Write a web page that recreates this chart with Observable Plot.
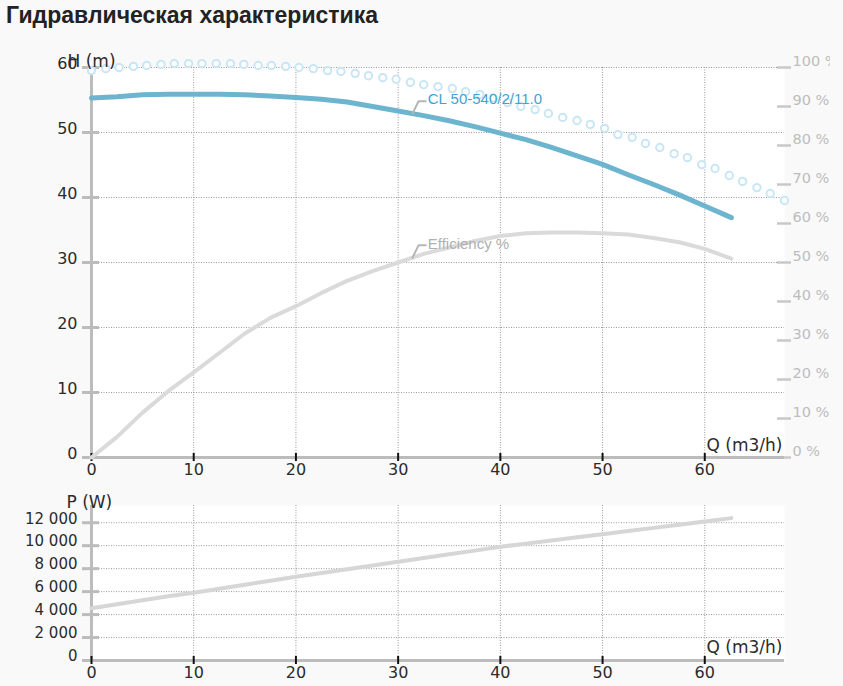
<!DOCTYPE html>
<html><head><meta charset="utf-8">
<script src="https://cdn.jsdelivr.net/npm/d3@7"></script>
<script src="https://cdn.jsdelivr.net/npm/@observablehq/plot@0.6"></script>
<style>
body{margin:0;background:#f9f9f9;}
#wrap{position:relative;width:843px;height:686px;overflow:hidden;background:#f9f9f9;font-family:"Liberation Sans",Arial,sans-serif;}
#title{position:absolute;left:6px;top:2px;font-size:23px;font-weight:bold;color:#222;white-space:nowrap;}
#top{position:absolute;left:0;top:30px;width:830px;height:450px;overflow:hidden;}
#bot{position:absolute;left:0;top:480px;width:843px;height:206px;overflow:hidden;}
</style></head><body>
<div id="wrap"><div id="title">Гидравлическая характеристика</div><div id="top"></div><div id="bot"></div></div>
<script>
// ---- data ----
const flow = [0,2.5,5,7.5,10,12.5,15,17.5,20,22.5,25,27.5,30,32.5,35,37.5,40,42.5,45,47.5,50,52.5,55,57.5,60,62.6];
const head = [55.3,55.5,55.8,55.9,55.9,55.9,55.8,55.6,55.4,55.1,54.7,54.0,53.3,52.6,51.8,50.9,49.9,48.9,47.7,46.4,45.1,43.5,42.0,40.4,38.7,36.9];
const efficiency = [0,5.3,11.5,17,21.8,26.8,31.8,35.8,38.8,42.2,45.3,47.8,50,52.2,53.8,55.5,56.8,57.5,57.7,57.7,57.5,57.2,56.3,55.2,53.5,51];
const power = [4550,4900,5250,5600,5900,6250,6600,6950,7300,7620,7950,8270,8600,8920,9250,9570,9900,10180,10450,10730,11000,11280,11550,11830,12100,12400];
const circleFlow = [0,1.4,2.7,4.1,5.4,6.8,8.1,9.5,10.8,12.2,13.6,14.9,16.3,17.6,19,20.3,21.7,23.1,24.4,25.8,27.1,28.5,29.8,31.2,32.5,33.9,35.3,36.6,38,39.3,40.7,42,43.4,44.7,46.1,47.5,48.8,50.2,51.5,52.9,54.2,55.6,57,58.3,59.7,61,62.4,63.7,65.1,66.4,67.8];
const circlePct = [99.2,99.7,100.0,100.3,100.5,100.8,101.0,101.0,101.0,101.0,101.0,100.8,100.5,100.5,100.3,100.0,99.7,99.2,99.0,98.5,97.9,97.4,97.0,96.2,95.6,95.1,94.6,93.8,93.1,92.2,91.0,90.0,89.2,88.2,87.2,86.4,85.4,84.4,82.8,82.1,80.5,79.5,77.9,76.9,75.1,74.1,72.3,70.8,69.2,67.7,65.9];
const xTicks = [0,10,20,30,40,50,60];
const hTicks = [0,10,20,30,40,50,60];
const pctTicks = [0,10,20,30,40,50,60,70,80,90,100];
const pTicks = [0,2000,4000,6000,8000,10000,12000];
const seriesName = "CL 50-540/2/11.0";
const effName = "Efficiency %";
const labelFlow = 31.4;

// ---- derived tables ----
const hMax = 60;                       // 100 % on the right axis == 60 m on the left axis
const toH = pct => pct * hMax / 100;
const curve = flow.map((q, i) => ({q, h: head[i], eff: efficiency[i], p: power[i]}));
const circles = circleFlow.map((q, i) => ({q, pct: circlePct[i]}));
function interp(arr, q) {
  const i = d3.bisectRight(flow, q) - 1;
  const t = (q - flow[i]) / (flow[i + 1] - flow[i]);
  return arr[i] + t * (arr[i + 1] - arr[i]);
}
const hAt = interp(head, labelFlow);
const eAt = toH(interp(efficiency, labelFlow));
const leader = (y0) => [[labelFlow, y0], [labelFlow + 0.6, y0 + 1.9], [labelFlow + 1.3, y0 + 1.9]];

const font = "Liberation Sans, Arial, sans-serif";
const axisFont = "DejaVu Sans, Verdana, sans-serif";
const gridStyle = {stroke: "#9a9a9a", strokeWidth: 1, strokeDasharray: "1,1.5"};
const axisGrey = "#bcbcbc";
const xDomain = [0, 67.8];

function leftAxis(ticks, fmt, size) {
  return [
    Plot.axisY(ticks, {anchor: "left", tickSize: 17, dx: 8, fill: "none", stroke: axisGrey, strokeWidth: 3, label: null}),
    Plot.axisY(ticks, {anchor: "left", tickSize: 17, dx: 8, tickPadding: 5, dy: -4, stroke: "none", fill: "#2b2b2b", fontFamily: axisFont, fontSize: size, tickFormat: fmt, label: null})
  ];
}
function bottomAxis() {
  return [
    Plot.ruleY([0], {stroke: axisGrey, strokeWidth: 3}),
    Plot.axisX(xTicks, {anchor: "bottom", tickSize: 8, dy: -4, fill: "none", stroke: "#111", strokeWidth: 2, label: null}),
    Plot.axisX(xTicks, {anchor: "bottom", tickSize: 0, tickPadding: 6, stroke: "none", fill: "#2b2b2b", fontFamily: axisFont, fontSize: 16, label: null})
  ];
}
const axisTitle = (txt, opts) => Plot.text([txt], {text: d => d, fill: "#2b2b2b", fontFamily: axisFont, fontSize: 17, ...opts});

const topChart = Plot.plot({
  width: 843, height: 450,
  marginLeft: 91, marginRight: 59, marginTop: 37, marginBottom: 23,
  style: {fontFamily: font, background: "transparent", maxWidth: "none", overflow: "visible"},
  x: {domain: xDomain},
  y: {domain: [0, hMax]},
  marks: [
    Plot.frame({fill: "white", stroke: null}),
    Plot.ruleX(xTicks.slice(1), gridStyle),
    Plot.ruleY(hTicks.slice(1), {...gridStyle, x1: xDomain[0], x2: xDomain[1]}),
    Plot.ruleX([0], {stroke: axisGrey, strokeWidth: 3}),
    ...leftAxis(hTicks, d => d, 16),
    Plot.axisY(pctTicks.map(toH), {anchor: "right", tickSize: 14, dx: -8, fill: "none", stroke: "#c8c8c8", strokeWidth: 2.5, label: null}),
    Plot.axisY(pctTicks.map(toH), {anchor: "right", tickSize: 14, dx: -8, tickPadding: 2, dy: -6, stroke: "none", fill: "#bdbdbd", fontFamily: axisFont, fontSize: 14.5, tickFormat: d => Math.round(d / hMax * 100) + " %", label: null}),
    ...bottomAxis(),
    Plot.line(curve, {x: "q", y: d => toH(d.eff), stroke: "#dadada", strokeWidth: 4}),
    Plot.line(curve, {x: "q", y: "h", stroke: "#6db4cf", strokeWidth: 5}),
    Plot.dot(circles, {x: "q", y: d => toH(d.pct), r: 3.7, stroke: "#c9e6f4", strokeWidth: 2, fill: "white"}),
    Plot.line(leader(hAt), {x: d => d[0], y: d => d[1], stroke: "#b5b5b5", strokeWidth: 2}),
    Plot.line(leader(eAt), {x: d => d[0], y: d => d[1], stroke: "#b5b5b5", strokeWidth: 2}),
    Plot.text([seriesName], {x: labelFlow + 1.5, y: hAt + 1.9, dy: -2, text: d => d, textAnchor: "start", fill: "#3fa3d4", fontSize: 15}),
    Plot.text([effName], {x: labelFlow + 1.5, y: eAt + 1.9, dy: -1, text: d => d, textAnchor: "start", fill: "#b0b0b0", fontSize: 15}),
    axisTitle("H (m)", {frameAnchor: "top-left", dx: -24, dy: -13, textAnchor: "start"}),
    axisTitle("Q (m3/h)", {frameAnchor: "bottom-right", dx: -2, dy: -7, textAnchor: "end"})
  ]
});
document.getElementById("top").appendChild(topChart);

const botChart = Plot.plot({
  width: 843, height: 206,
  marginLeft: 91, marginRight: 59, marginTop: 25, marginBottom: 26,
  style: {fontFamily: font, background: "transparent", maxWidth: "none", overflow: "visible"},
  x: {domain: xDomain},
  y: {domain: [0, 13500]},
  marks: [
    Plot.frame({fill: "white", stroke: null}),
    Plot.ruleX(xTicks.slice(1), gridStyle),
    Plot.ruleY(pTicks.slice(1), {...gridStyle, x1: xDomain[0], x2: xDomain[1]}),
    Plot.ruleX([0], {stroke: axisGrey, strokeWidth: 3}),
    ...leftAxis(pTicks, d => d3.format(",")(d).replace(/,/g, " "), 15),
    ...bottomAxis(),
    Plot.line(curve, {x: "q", y: "p", stroke: "#d6d6d6", strokeWidth: 4}),
    axisTitle("P (W)", {frameAnchor: "top-left", dx: -25, dy: -10, textAnchor: "start"}),
    axisTitle("Q (m3/h)", {frameAnchor: "bottom-right", dx: -2, dy: -8, textAnchor: "end"})
  ]
});
document.getElementById("bot").appendChild(botChart);
</script>
</body></html>
